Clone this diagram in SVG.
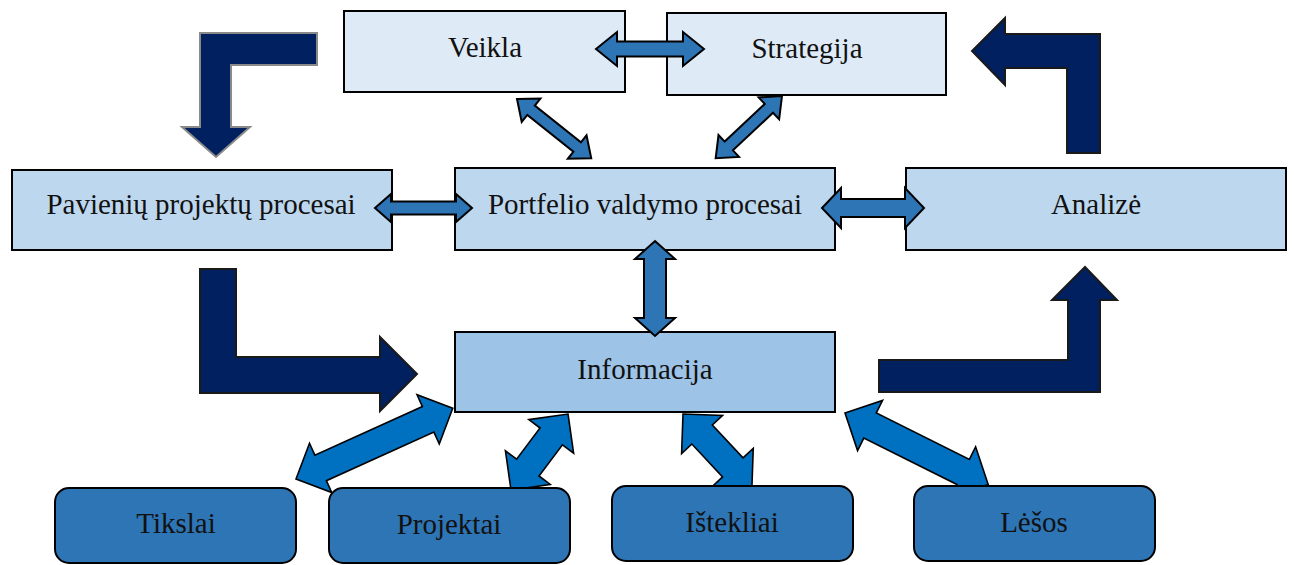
<svg xmlns="http://www.w3.org/2000/svg" width="1294" height="565" viewBox="0 0 1294 565">
  <style>
    .box { stroke: #000; stroke-width: 2; }
    .top { fill: #DEEBF7; }
    .mid { fill: #BDD7EE; }
    .info { fill: #9DC3E6; }
    .leaf { fill: #2E75B6; }
    .lbl { font-family: "Liberation Serif", "Times New Roman", serif; font-size: 29px; fill: #111; text-anchor: middle; }
    .dbl { fill: #2E75B6; stroke: #000; stroke-width: 2; stroke-linejoin: miter; }
    .dbl2 { fill: #0070C0; stroke: #000; stroke-width: 1.6; stroke-linejoin: miter; }
    .flow { fill: #002060; stroke: #1a1a1a; stroke-width: 2; }
    .flow-soft { fill: #002060; stroke: #8a8a8a; stroke-width: 2; }
  </style>

  <rect width="1294" height="565" fill="#fff"/>

  <!-- links from Informacija to the resource boxes; their ends tuck under the boxes -->
  <g id="links-back">
    <polygon class="dbl2" transform="translate(296,479) rotate(-24.3)" points="0,0 27,-27 27,-14 145,-14 145,-27 172,0 145,27 145,14 27,14 27,27"/>
    <polygon class="dbl2" transform="translate(511,490) rotate(-53.1)" points="0,0 28,-28 28,-14 67,-14 67,-28 95,0 67,28 67,14 28,14 28,28"/>
    <polygon class="dbl2" transform="translate(683,414) rotate(47)" points="0,0 28,-28 28,-14 73,-14 73,-28 101,0 73,28 73,14 28,14 28,28"/>
    <polygon class="dbl2" transform="translate(845,413) rotate(26.5)" points="0,0 28,-28 28,-14 132,-14 132,-28 160,0 132,28 132,14 28,14 28,28"/>
  </g>

  <g id="veikla">
    <rect class="box top" x="344" y="11" width="281" height="81"/>
    <text class="lbl" x="485" y="57">Veikla</text>
  </g>
  <g id="strategija">
    <rect class="box top" x="667" y="13" width="279" height="82"/>
    <text class="lbl" x="807" y="58">Strategija</text>
  </g>
  <g id="pavieniu">
    <rect class="box mid" x="12" y="170" width="380" height="80"/>
    <text class="lbl" x="201" y="214">Pavienių projektų procesai</text>
  </g>
  <g id="portfelio">
    <rect class="box mid" x="455" y="168" width="380" height="82"/>
    <text class="lbl" x="645" y="214">Portfelio valdymo procesai</text>
  </g>
  <g id="analize">
    <rect class="box mid" x="906" y="168" width="380" height="82"/>
    <text class="lbl" x="1096" y="214">Analizė</text>
  </g>
  <g id="informacija">
    <rect class="box info" x="455" y="332" width="380" height="80"/>
    <text class="lbl" x="645" y="379">Informacija</text>
  </g>
  <g id="tikslai">
    <rect class="box leaf" x="55" y="488" width="241" height="75" rx="14"/>
    <text class="lbl" x="176" y="533">Tikslai</text>
  </g>
  <g id="projektai">
    <rect class="box leaf" x="329" y="488" width="241" height="75" rx="14"/>
    <text class="lbl" x="449" y="534">Projektai</text>
  </g>
  <g id="istekliai">
    <rect class="box leaf" x="612" y="486" width="241" height="75" rx="14"/>
    <text class="lbl" x="732" y="532">Ištekliai</text>
  </g>
  <g id="lesos">
    <rect class="box leaf" x="914" y="486" width="241" height="75" rx="14"/>
    <text class="lbl" x="1034" y="532">Lėšos</text>
  </g>

  <g id="connectors">
    <!-- two-way links between the upper boxes -->
    <polygon class="dbl" transform="translate(596,49)" points="0,0 21,-17 21,-7.5 87,-7.5 87,-17 108,0 87,17 87,7.5 21,7.5 21,17"/>
    <polygon class="dbl" transform="translate(517,99) rotate(38.6)" points="0,0 18,-15 18,-6 77,-6 77,-15 95,0 77,15 77,6 18,6 18,15"/>
    <polygon class="dbl" transform="translate(782,96) rotate(136.8)" points="0,0 18,-15 18,-6 73,-6 73,-15 91,0 73,15 73,6 18,6 18,15"/>
    <polygon class="dbl" transform="translate(375,208)" points="0,0 16,-14 16,-6.5 81,-6.5 81,-14 97,0 81,14 81,6.5 16,6.5 16,14"/>
    <polygon class="dbl" transform="translate(822,208)" points="0,0 19,-20 19,-9 83,-9 83,-20 102,0 83,20 83,9 19,9 19,20"/>
    <polygon class="dbl" transform="translate(655,241) rotate(90)" points="0,0 18,-20 18,-11 77,-11 77,-20 95,0 77,20 77,11 18,11 18,20"/>

    <!-- bent flow arrows forming the outer cycle -->
    <polygon class="flow-soft" points="317,33 200,33 200,127 182,127 216,157 250,127 231,127 231,65 317,65"/>
    <polygon class="flow" points="1100,153 1067,153 1067,68 1005,68 1005,85 972,51 1005,18 1005,34 1100,34"/>
    <polygon class="flow" points="200,269 236,269 236,357 380,357 380,337 417,374 380,411 380,393 200,393"/>
    <polygon class="flow" points="879,360 1068,360 1068,300 1052,300 1085,267 1117,300 1100,300 1100,392 879,392"/>
  </g>
</svg>
